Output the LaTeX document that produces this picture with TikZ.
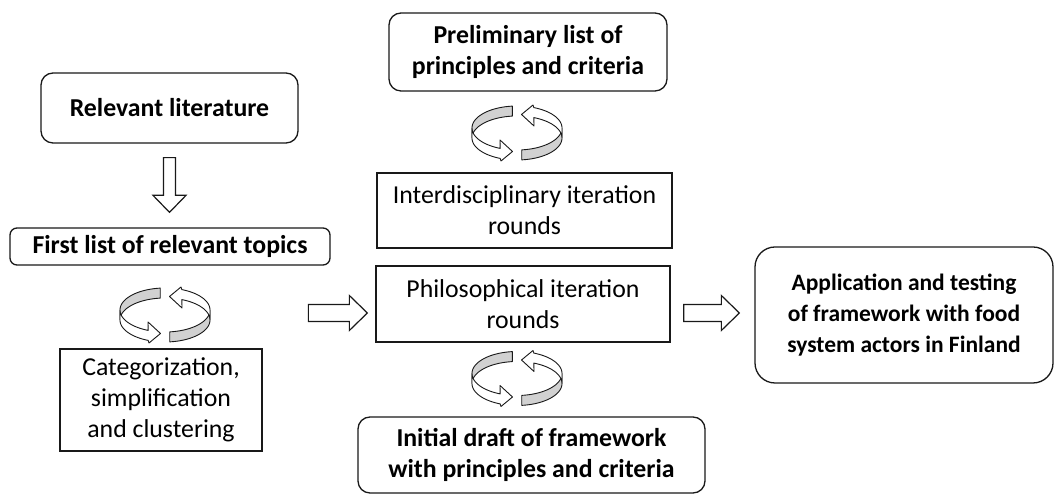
\documentclass[tikz,border=0pt]{standalone}
\usepackage{fontspec}
\setmainfont{Carlito}
\usetikzlibrary{calc}
\tikzset{
  base/.style={draw=black!90, line width=1.3pt, inner sep=0pt, align=center, font=\fontsize{25.8}{31}\selectfont},
  rbox/.style={base, rounded corners=#1, font=\fontsize{25.8}{31}\selectfont\bfseries},
  sbox/.style={base},
  blk/.style={draw=black!90, line width=1.2pt, fill=white, line join=miter},
  cyc/.style={draw=black!90, line width=0.9pt, line join=round},
  pics/cycle/.style={code={
    \foreach \r in {0,180}{
      \begin{scope}[rotate=\r]
        \draw[cyc, fill=black!18] plot[domain=96:180, samples=30] ({45*cos(\x)},{5+22*sin(\x)})
          -- plot[domain=180:96, samples=30] ({45*cos(\x)},{-5+22*sin(\x)}) -- cycle;
        \draw[cyc, fill=white] plot[domain=180:248, samples=30] ({45*cos(\x)},{5+22*sin(\x)})
          -- (-17,-7) -- (-4.5,-18.5) -- (-16,-28)
          -- plot[domain=248:180, samples=30] ({45*cos(\x)},{-5+22*sin(\x)}) -- cycle;
      \end{scope}
    }
  }}
}
\newcommand{\myharrow}[2]{%
  \draw[blk] let \p1=(#1), \p2=(#2) in
    (\x1,\y1+8.5pt) -- (\x2-18pt,\y1+8.5pt) -- (\x2-18pt,\y1+17.5pt) -- (\x2,\y1)
    -- (\x2-18pt,\y1-17.5pt) -- (\x2-18pt,\y1-8.5pt) -- (\x1,\y1-8.5pt) -- cycle;}
\newcommand{\myvarrow}[2]{%
  \draw[blk] let \p1=(#1), \p2=(#2) in
    (\x1-6pt,\y1) -- (\x1-6pt,\y2+17pt) -- (\x1-16.5pt,\y2+17pt) -- (\x1,\y2)
    -- (\x1+16.5pt,\y2+17pt) -- (\x1+6pt,\y2+17pt) -- (\x1+6pt,\y1) -- cycle;}
\begin{document}
\begin{tikzpicture}[x=1pt, y=1pt]
\useasboundingbox (0,0) rectangle (1055,494);
% boxes
\node[rbox=12pt, minimum width=257pt, minimum height=70pt] (lit) at (169.5,386) {Relevant literature};
\node[rbox=7pt, minimum width=320pt, minimum height=37pt] (first) at (170,247.5) {First list of relevant topics};
\node[sbox, minimum width=202pt, minimum height=102pt] (cat) at (161,94) {Categorization,\\simplification\\and clustering};
\node[rbox=12pt, minimum width=278pt, minimum height=78pt] (prelim) at (528,442) {Preliminary list of\\principles and criteria};
\node[sbox, minimum width=295pt, minimum height=75pt] (inter) at (524.5,283.5) {Interdisciplinary iteration\\rounds};
\node[sbox, minimum width=294pt, minimum height=76pt] (phil) at (523,190) {Philosophical iteration\\rounds};
\node[rbox=12pt, minimum width=347pt, minimum height=76pt] (init) at (531.5,39) {Initial draft of framework\\with principles and criteria};
\node[rbox=20pt, minimum width=298pt, minimum height=136pt, font=\fontsize{23.5}{31}\selectfont\bfseries] (app) at (904,179) {Application and testing\\of framework with food\\system actors in Finland};
% cycle icons
\pic at (165,179) {cycle};
\pic at (517,361) {cycle};
\pic at (517,115.5) {cycle};
% block arrows
\coordinate (d1) at ($(lit.south)+(0,-14)$);
\coordinate (d2) at ($(first.north)+(0,15)$);
\coordinate (h1) at ($(phil.west|-app.west)+(-67,2)$);
\coordinate (h2) at ($(phil.west|-app.west)+(-8,2)$);
\coordinate (r1) at ($(phil.east|-app.west)+(13,2)$);
\coordinate (r2) at ($(app.west)+(-15,2)$);
\myvarrow{d1}{d2}
\myharrow{h1}{h2}
\myharrow{r1}{r2}
\end{tikzpicture}
\end{document}
